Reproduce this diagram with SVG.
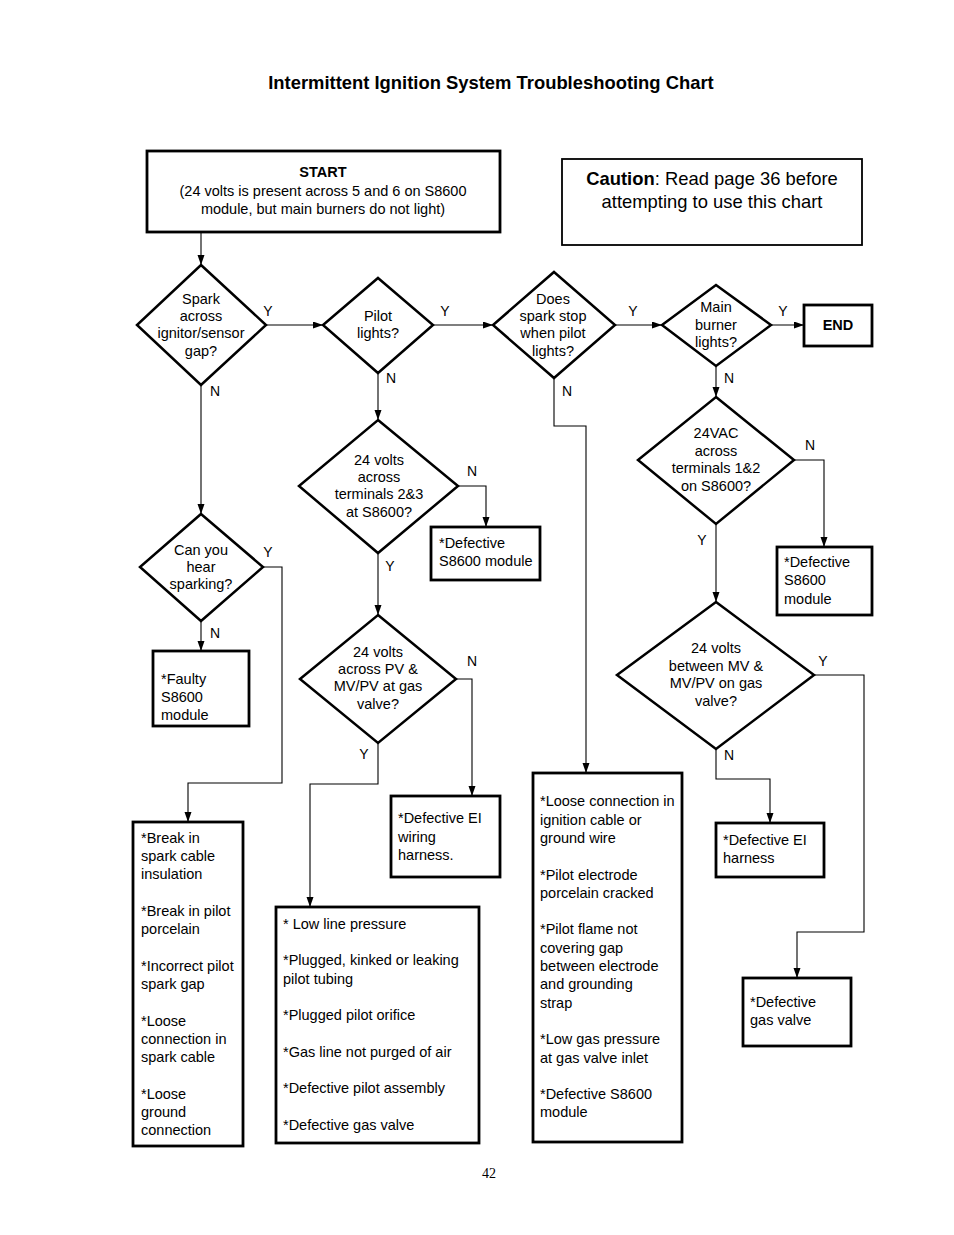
<svg xmlns="http://www.w3.org/2000/svg" width="954" height="1235" viewBox="0 0 954 1235">
<style>
text{font-family:"Liberation Sans",Arial,sans-serif;font-size:14.5px;fill:#000}
.c{text-anchor:middle}
.b{font-weight:bold}
.lbl{font-size:14px;text-anchor:middle}
.title{font-size:18.4px;font-weight:bold;text-anchor:middle}
.cau{font-size:18.4px;text-anchor:middle}
.box{fill:#fff;stroke:#000;stroke-width:2.8}
.dia{fill:#fff;stroke:#000;stroke-width:2.5}
.conn path{fill:none;stroke:#000;stroke-width:1.1;marker-end:url(#ah)}
.pg{font-family:"Liberation Serif","Times New Roman",serif;font-size:14px;text-anchor:middle}
</style>
<defs>
<marker id="ah" markerUnits="userSpaceOnUse" markerWidth="10" markerHeight="8" refX="10" refY="3.5" orient="auto">
<path d="M0,0 L10,3.5 L0,7 z" fill="#000"/>
</marker>
</defs>
<rect width="954" height="1235" fill="#fff"/>
<text class="title" x="491" y="89">Intermittent Ignition System Troubleshooting Chart</text>

<g class="conn" id="connectors">
<path d="M201,232 V265"/>
<path d="M266,325 H323"/>
<path d="M433,325 H493"/>
<path d="M615,325 H662"/>
<path d="M771,325 H804"/>
<path d="M201,385 V514"/>
<path d="M263,567 H282 V783 H188 V822"/>
<path d="M201,621 V651"/>
<path d="M378,373 V420"/>
<path d="M458,486 H486 V527"/>
<path d="M378,553 V615"/>
<path d="M456,679 H472 V796"/>
<path d="M378,743 V784 H310 V907"/>
<path d="M554,378 V426 H586 V773"/>
<path d="M716,366 V397"/>
<path d="M794,460 H824 V547"/>
<path d="M716,524 V602"/>
<path d="M814,675 H864 V932 H797 V978"/>
<path d="M716,749 V779 H770 V823"/>
</g>

<g id="labels">
<text class="lbl" x="268" y="316">Y</text>
<text class="lbl" x="445" y="316">Y</text>
<text class="lbl" x="633" y="316">Y</text>
<text class="lbl" x="783" y="316">Y</text>
<text class="lbl" x="215" y="396">N</text>
<text class="lbl" x="391" y="383">N</text>
<text class="lbl" x="567" y="396">N</text>
<text class="lbl" x="729" y="383">N</text>
<text class="lbl" x="472" y="476">N</text>
<text class="lbl" x="390" y="571">Y</text>
<text class="lbl" x="268" y="557">Y</text>
<text class="lbl" x="215" y="638">N</text>
<text class="lbl" x="472" y="666">N</text>
<text class="lbl" x="364" y="759">Y</text>
<text class="lbl" x="810" y="450">N</text>
<text class="lbl" x="702" y="545">Y</text>
<text class="lbl" x="823" y="666">Y</text>
<text class="lbl" x="729" y="760">N</text>
</g>

<g id="start">
<rect class="box" x="147" y="151" width="353" height="81"/>
<text class="c b" x="323" y="177">START</text>
<text class="c" x="323" y="196">(24 volts is present across 5 and 6 on S8600</text>
<text class="c" x="323" y="214">module, but main burners do not light)</text>
</g>

<g id="caution">
<rect x="562" y="159" width="300" height="86" fill="#fff" stroke="#000" stroke-width="1.8"/>
<text class="cau" x="712" y="185"><tspan font-weight="bold">Caution</tspan>: Read page 36 before</text>
<text class="cau" x="712" y="208">attempting to use this chart</text>
</g>

<g id="d-spark">
<polygon class="dia" points="201,265 266,325 201,385 137,325"/>
<text class="c" x="201" y="304">Spark</text>
<text class="c" x="201" y="321">across</text>
<text class="c" x="201" y="338">ignitor/sensor</text>
<text class="c" x="201" y="356">gap?</text>
</g>

<g id="d-pilot">
<polygon class="dia" points="378,278 433,325 378,373 323,325"/>
<text class="c" x="378" y="321">Pilot</text>
<text class="c" x="378" y="338">lights?</text>
</g>

<g id="d-sparkstop">
<polygon class="dia" points="554,272 615,325 554,378 493,325"/>
<text class="c" x="553" y="304">Does</text>
<text class="c" x="553" y="321">spark stop</text>
<text class="c" x="553" y="338">when pilot</text>
<text class="c" x="553" y="356">lights?</text>
</g>

<g id="d-main">
<polygon class="dia" points="716,285 771,325 716,366 662,325"/>
<text class="c" x="716" y="312">Main</text>
<text class="c" x="716" y="330">burner</text>
<text class="c" x="716" y="347">lights?</text>
</g>

<g id="end">
<rect class="box" x="804" y="305" width="68" height="41"/>
<text class="c b" x="838" y="330">END</text>
</g>

<g id="d-term23">
<polygon class="dia" points="378,420 458,486 378,553 299,486"/>
<text class="c" x="379" y="465">24 volts</text>
<text class="c" x="379" y="482">across</text>
<text class="c" x="379" y="499">terminals 2&amp;3</text>
<text class="c" x="379" y="517">at S8600?</text>
</g>

<g id="b-def-s8600-a">
<rect class="box" x="431" y="527" width="109" height="53"/>
<text x="439" y="548">*Defective</text>
<text x="439" y="566">S8600 module</text>
</g>

<g id="d-hear">
<polygon class="dia" points="201,514 263,567 201,621 140,567"/>
<text class="c" x="201" y="555">Can you</text>
<text class="c" x="201" y="572">hear</text>
<text class="c" x="201" y="589">sparking?</text>
</g>

<g id="b-faulty">
<rect class="box" x="153" y="651" width="96" height="75"/>
<text x="161" y="684">*Faulty</text>
<text x="161" y="702">S8600</text>
<text x="161" y="720">module</text>
</g>

<g id="d-pv">
<polygon class="dia" points="378,615 456,679 378,743 300,679"/>
<text class="c" x="378" y="657">24 volts</text>
<text class="c" x="378" y="674">across PV &amp;</text>
<text class="c" x="378" y="691">MV/PV at gas</text>
<text class="c" x="378" y="709">valve?</text>
</g>

<g id="b-ei-wiring">
<rect class="box" x="391" y="796" width="109" height="81"/>
<text x="398" y="823">*Defective EI</text>
<text x="398" y="842">wiring</text>
<text x="398" y="860">harness.</text>
</g>

<g id="d-term12">
<polygon class="dia" points="716,397 794,460 716,524 638,460"/>
<text class="c" x="716" y="438">24VAC</text>
<text class="c" x="716" y="456">across</text>
<text class="c" x="716" y="473">terminals 1&amp;2</text>
<text class="c" x="716" y="491">on S8600?</text>
</g>

<g id="b-def-s8600-b">
<rect class="box" x="777" y="547" width="95" height="68"/>
<text x="784" y="567">*Defective</text>
<text x="784" y="585">S8600</text>
<text x="784" y="604">module</text>
</g>

<g id="d-mv">
<polygon class="dia" points="716,602 814,675 716,749 617,675"/>
<text class="c" x="716" y="653">24 volts</text>
<text class="c" x="716" y="671">between MV &amp;</text>
<text class="c" x="716" y="688">MV/PV on gas</text>
<text class="c" x="716" y="706">valve?</text>
</g>

<g id="b-ei-harness">
<rect class="box" x="716" y="823" width="108" height="54"/>
<text x="723" y="845">*Defective EI</text>
<text x="723" y="863">harness</text>
</g>

<g id="b-gas-valve">
<rect class="box" x="743" y="978" width="108" height="68"/>
<text x="750" y="1007">*Defective</text>
<text x="750" y="1025">gas valve</text>
</g>

<g id="b-spark-causes">
<rect class="box" x="133" y="822" width="110" height="324"/>
<text x="141" y="843">*Break in</text>
<text x="141" y="861">spark cable</text>
<text x="141" y="879">insulation</text>
<text x="141" y="916">*Break in pilot</text>
<text x="141" y="934">porcelain</text>
<text x="141" y="971">*Incorrect pilot</text>
<text x="141" y="989">spark gap</text>
<text x="141" y="1026">*Loose</text>
<text x="141" y="1044">connection in</text>
<text x="141" y="1062">spark cable</text>
<text x="141" y="1099">*Loose</text>
<text x="141" y="1117">ground</text>
<text x="141" y="1135">connection</text>
</g>

<g id="b-gas-causes">
<rect class="box" x="276" y="907" width="203" height="236"/>
<text x="283" y="929">* Low line pressure</text>
<text x="283" y="965">*Plugged, kinked or leaking</text>
<text x="283" y="984">pilot tubing</text>
<text x="283" y="1020">*Plugged pilot orifice</text>
<text x="283" y="1057">*Gas line not purged of air</text>
<text x="283" y="1093">*Defective pilot assembly</text>
<text x="283" y="1130">*Defective gas valve</text>
</g>

<g id="b-ignition-causes">
<rect class="box" x="533" y="773" width="149" height="369"/>
<text x="540" y="806">*Loose connection in</text>
<text x="540" y="825">ignition cable or</text>
<text x="540" y="843">ground wire</text>
<text x="540" y="880">*Pilot electrode</text>
<text x="540" y="898">porcelain cracked</text>
<text x="540" y="934">*Pilot flame not</text>
<text x="540" y="953">covering gap</text>
<text x="540" y="971">between electrode</text>
<text x="540" y="989">and grounding</text>
<text x="540" y="1008">strap</text>
<text x="540" y="1044">*Low gas pressure</text>
<text x="540" y="1063">at gas valve inlet</text>
<text x="540" y="1099">*Defective S8600</text>
<text x="540" y="1117">module</text>
</g>

<text class="pg" x="489" y="1178">42</text>
</svg>
